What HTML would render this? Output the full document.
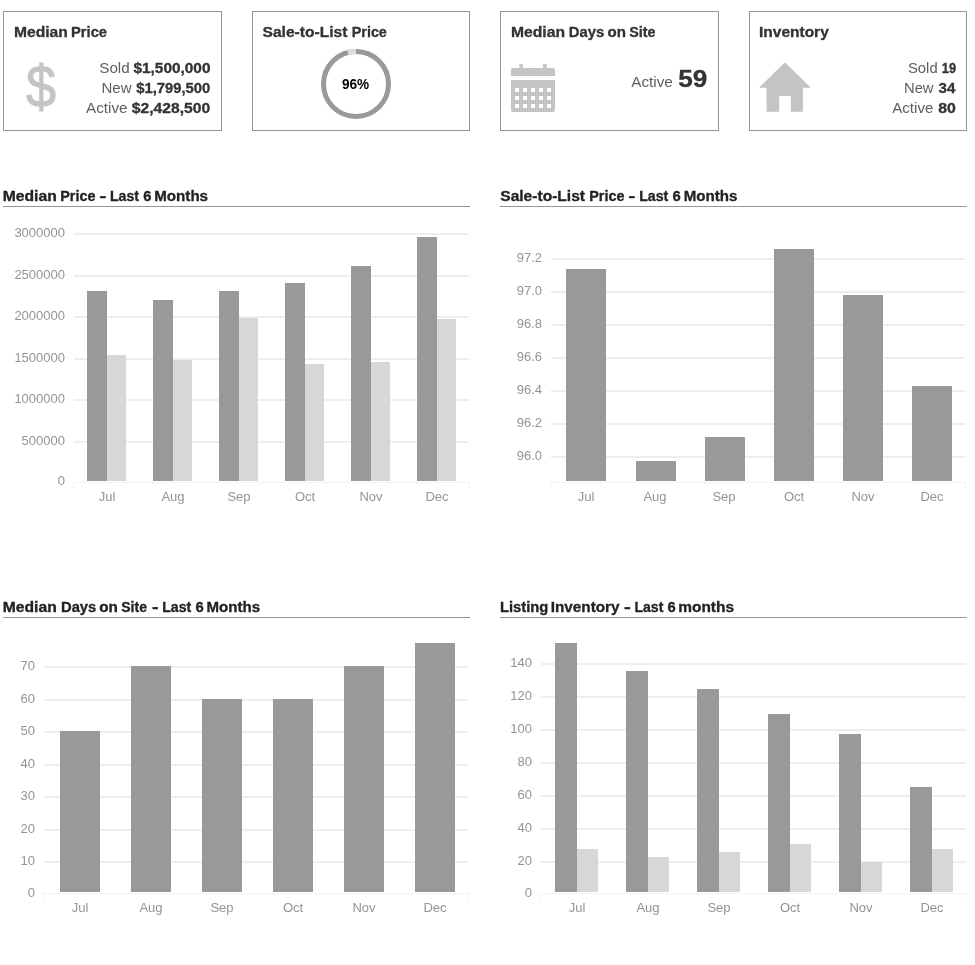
<!DOCTYPE html>
<html lang="en">
<head>
<meta charset="utf-8">
<title>Market Report</title>
<style>
html,body{margin:0;padding:0;background:#fff;}
body{position:relative;width:975px;height:965px;overflow:hidden;font-family:"Liberation Sans",sans-serif;}
.t{position:absolute;white-space:nowrap;line-height:1;transform-origin:0 0;will-change:transform;}
.card{position:absolute;top:11px;height:118px;width:217px;border:1px solid #969696;}
.rule{position:absolute;height:1px;background:#969696;}
.g{position:absolute;height:2px;background:#eeeeee;}
.z{position:absolute;height:1px;background:#f3f3f3;}
.v{position:absolute;width:1px;background:#f2f2f2;}
.b{position:absolute;background:#999999;}
.l{position:absolute;background:#d7d7d7;}
.yl{position:absolute;will-change:transform;font-size:13px;line-height:13px;color:#949494;text-align:right;white-space:nowrap;}
.xl{position:absolute;will-change:transform;font-size:13px;line-height:13px;color:#949494;text-align:center;white-space:nowrap;width:60px;}
svg{position:absolute;overflow:visible;}
</style>
</head>
<body>

<!-- summary cards -->
<section>
<div class="card" style="left:3px;width:217px"></div>
<div class="card" style="left:252px;width:216px"></div>
<div class="card" style="left:500px;width:217px"></div>
<div class="card" style="left:749px;width:216px"></div>
<span class="t" style="left:14px;top:26px;font-size:11.2px;font-weight:700;-webkit-text-stroke:0.24px #333333;color:#333333;transform:scale(1.3953,1.25);">Median</span>
<span class="t" style="left:71px;top:26px;font-size:11.2px;font-weight:700;-webkit-text-stroke:0.24px #333333;color:#333333;transform:scale(1.3151,1.25);">Price</span>
<span class="t" style="left:262px;top:26px;font-size:11.2px;font-weight:700;-webkit-text-stroke:0.24px #333333;color:#333333;transform:translateX(0.5px) scale(1.3933,1.25);">Sale-to-List</span>
<span class="t" style="left:351px;top:26px;font-size:11.2px;font-weight:700;-webkit-text-stroke:0.24px #333333;color:#333333;transform:translateX(0.75px) scale(1.2820,1.25);">Price</span>
<span class="t" style="left:511px;top:26px;font-size:11.2px;font-weight:700;-webkit-text-stroke:0.24px #333333;color:#333333;transform:scale(1.4001,1.25);">Median</span>
<span class="t" style="left:568px;top:26px;font-size:11.2px;font-weight:700;-webkit-text-stroke:0.24px #333333;color:#333333;transform:translateX(0.75px) scale(1.3261,1.25);">Days</span>
<span class="t" style="left:607px;top:26px;font-size:11.2px;font-weight:700;-webkit-text-stroke:0.24px #333333;color:#333333;transform:translateX(0.5px) scale(1.3461,1.25);">on</span>
<span class="t" style="left:629px;top:26px;font-size:11.2px;font-weight:700;-webkit-text-stroke:0.24px #333333;color:#333333;transform:translateX(0.25px) scale(1.2787,1.25);">Site</span>
<span class="t" style="left:759px;top:26px;font-size:11.2px;font-weight:700;-webkit-text-stroke:0.24px #333333;color:#333333;transform:scale(1.3855,1.25);">Inventory</span>
<span class="t" style="left:25.9px;top:58.3px;font-size:58.6px;-webkit-text-stroke:1px #c4c4c4;transform:scaleX(0.92);color:#c4c4c4;">$</span>
<span class="t" style="left:99px;top:62px;font-size:11.2px;color:#5e5e5e;transform:translateX(0.25px) scale(1.3595,1.25);">Sold</span>
<span class="t" style="left:133px;top:62px;font-size:11.2px;font-weight:700;-webkit-text-stroke:0.24px #333333;color:#333333;transform:translateX(0.5px) scale(1.3744,1.25);">$1,500,000</span>
<span class="t" style="left:101px;top:82px;font-size:11.2px;color:#5e5e5e;transform:translateX(0.5px) scale(1.3404,1.25);">New</span>
<span class="t" style="left:136px;top:82px;font-size:11.2px;font-weight:700;-webkit-text-stroke:0.24px #333333;color:#333333;transform:translateX(0.25px) scale(1.3200,1.25);">$1,799,500</span>
<span class="t" style="left:86px;top:102px;font-size:11.2px;color:#5e5e5e;transform:scale(1.3651,1.25);">Active</span>
<span class="t" style="left:131px;top:102px;font-size:11.2px;font-weight:700;-webkit-text-stroke:0.24px #333333;color:#333333;transform:translateX(0.75px) scale(1.3997,1.25);">$2,428,500</span>
<svg width="72" height="72" style="left:320px;top:47.8px" viewBox="-36 -36 72 72">
<circle r="32.5" fill="none" stroke="#999999" stroke-width="5"/>
<path d="M -8.08 -31.48 A 32.5 32.5 0 0 1 0 -32.5" fill="none" stroke="#dddddd" stroke-width="5"/>
</svg>
<span class="t" style="left:342px;top:78px;font-size:11.2px;font-weight:700;color:#000;transform:scale(1.2132,1.25);">96%</span>
<svg width="44" height="49" style="left:511px;top:64px" viewBox="0 0 44 49" fill="#c4c4c4">
<rect x="8.3" y="0" width="3.6" height="5"/><rect x="32" y="0" width="3.8" height="5"/>
<path d="M2 4h40a2 2 0 0 1 2 2v6H0V6a2 2 0 0 1 2-2z"/>
<path fill-rule="evenodd" d="M0 16h44v30a2 2 0 0 1-2 2H2a2 2 0 0 1-2-2zM4 24v4h4v-4zM12 24v4h4v-4zM20 24v4h4v-4zM28 24v4h4v-4zM36 24v4h4v-4zM4 32v4h4v-4zM12 32v4h4v-4zM20 32v4h4v-4zM28 32v4h4v-4zM36 32v4h4v-4zM4 40v4h4v-4zM12 40v4h4v-4zM20 40v4h4v-4zM28 40v4h4v-4zM36 40v4h4v-4z"/>
</svg>
<span class="t" style="left:631px;top:76px;font-size:11.2px;color:#5e5e5e;transform:translateX(0.25px) scale(1.3649,1.25);">Active</span>
<span class="t" style="left:678px;top:67px;font-size:19.2px;font-weight:700;-webkit-text-stroke:0.24px #333333;color:#333333;transform:translateX(0.25px) scale(1.3617,1.25);">59</span>
<svg width="52" height="50" style="left:759.45px;top:61.95px" viewBox="0 0 51.6 49.3" fill="#c4c4c4">
<path d="M25.7 0L51.6 25.3H43.6V49.3H31.6V33.5H20V49.3H7.5V25.3H0z"/>
</svg>
<span class="t" style="left:908px;top:62px;font-size:11.2px;color:#5e5e5e;transform:scale(1.3226,1.25);">Sold</span>
<span class="t" style="left:941px;top:62px;font-size:11.2px;font-weight:700;-webkit-text-stroke:0.24px #333333;color:#333333;transform:translateX(0.75px) scale(1.1478,1.25);">19</span>
<span class="t" style="left:904px;top:82px;font-size:11.2px;color:#5e5e5e;transform:scale(1.3196,1.25);">New</span>
<span class="t" style="left:938px;top:82px;font-size:11.2px;font-weight:700;-webkit-text-stroke:0.24px #333333;color:#333333;transform:translateX(0.5px) scale(1.3486,1.25);">34</span>
<span class="t" style="left:892px;top:102px;font-size:11.2px;color:#5e5e5e;transform:translateX(0.25px) scale(1.3499,1.25);">Active</span>
<span class="t" style="left:938px;top:102px;font-size:11.2px;font-weight:700;-webkit-text-stroke:0.24px #333333;color:#333333;transform:translateX(0.25px) scale(1.4129,1.25);">80</span>
</section>
<!-- section headings -->
<section>
<span class="t" style="left:2px;top:190px;font-size:11.2px;font-weight:700;-webkit-text-stroke:0.24px #222222;color:#222222;transform:translateX(0.75px) scale(1.4006,1.25);">Median</span>
<span class="t" style="left:60px;top:190px;font-size:11.2px;font-weight:700;-webkit-text-stroke:0.24px #222222;color:#222222;transform:translateX(0.25px) scale(1.2844,1.25);">Price</span>
<span class="t" style="left:99px;top:190px;font-size:11.2px;font-weight:700;-webkit-text-stroke:0.24px #222222;color:#222222;transform:translateX(0.5px) scale(1.8084,1.25);">-</span>
<span class="t" style="left:110px;top:190px;font-size:11.2px;font-weight:700;-webkit-text-stroke:0.24px #222222;color:#222222;transform:scale(1.2585,1.25);">Last</span>
<span class="t" style="left:143px;top:190px;font-size:11.2px;font-weight:700;-webkit-text-stroke:0.24px #222222;color:#222222;transform:translateX(0.25px) scale(1.3065,1.25);">6</span>
<span class="t" style="left:154px;top:190px;font-size:11.2px;font-weight:700;-webkit-text-stroke:0.24px #222222;color:#222222;transform:translateX(0.25px) scale(1.3524,1.25);">Months</span>
<span class="t" style="left:500px;top:190px;font-size:11.2px;font-weight:700;-webkit-text-stroke:0.24px #222222;color:#222222;transform:translateX(0.25px) scale(1.3916,1.25);">Sale-to-List</span>
<span class="t" style="left:589px;top:190px;font-size:11.2px;font-weight:700;-webkit-text-stroke:0.24px #222222;color:#222222;transform:translateX(0.25px) scale(1.2853,1.25);">Price</span>
<span class="t" style="left:628px;top:190px;font-size:11.2px;font-weight:700;-webkit-text-stroke:0.24px #222222;color:#222222;transform:translateX(0.5px) scale(1.8084,1.25);">-</span>
<span class="t" style="left:639px;top:190px;font-size:11.2px;font-weight:700;-webkit-text-stroke:0.24px #222222;color:#222222;transform:translateX(0.25px) scale(1.2614,1.25);">Last</span>
<span class="t" style="left:672px;top:190px;font-size:11.2px;font-weight:700;-webkit-text-stroke:0.24px #222222;color:#222222;transform:translateX(0.5px) scale(1.3192,1.25);">6</span>
<span class="t" style="left:683px;top:190px;font-size:11.2px;font-weight:700;-webkit-text-stroke:0.24px #222222;color:#222222;transform:translateX(0.75px) scale(1.3501,1.25);">Months</span>
<span class="t" style="left:2px;top:601px;font-size:11.2px;font-weight:700;-webkit-text-stroke:0.24px #222222;color:#222222;transform:translateX(0.75px) scale(1.4006,1.25);">Median</span>
<span class="t" style="left:61px;top:601px;font-size:11.2px;font-weight:700;-webkit-text-stroke:0.24px #222222;color:#222222;transform:scale(1.3195,1.25);">Days</span>
<span class="t" style="left:99px;top:601px;font-size:11.2px;font-weight:700;-webkit-text-stroke:0.24px #222222;color:#222222;transform:translateX(0.25px) scale(1.3653,1.25);">on</span>
<span class="t" style="left:121px;top:601px;font-size:11.2px;font-weight:700;-webkit-text-stroke:0.24px #222222;color:#222222;transform:translateX(0.25px) scale(1.2509,1.25);">Site</span>
<span class="t" style="left:152px;top:601px;font-size:11.2px;font-weight:700;-webkit-text-stroke:0.24px #222222;color:#222222;transform:scale(1.7620,1.25);">-</span>
<span class="t" style="left:162px;top:601px;font-size:11.2px;font-weight:700;-webkit-text-stroke:0.24px #222222;color:#222222;transform:translateX(0.25px) scale(1.2614,1.25);">Last</span>
<span class="t" style="left:195px;top:601px;font-size:11.2px;font-weight:700;-webkit-text-stroke:0.24px #222222;color:#222222;transform:translateX(0.5px) scale(1.3192,1.25);">6</span>
<span class="t" style="left:206px;top:601px;font-size:11.2px;font-weight:700;-webkit-text-stroke:0.24px #222222;color:#222222;transform:translateX(0.5px) scale(1.3458,1.25);">Months</span>
<span class="t" style="left:500px;top:601px;font-size:11.2px;font-weight:700;-webkit-text-stroke:0.24px #222222;color:#222222;transform:scale(1.3148,1.25);">Listing</span>
<span class="t" style="left:550px;top:601px;font-size:11.2px;font-weight:700;-webkit-text-stroke:0.24px #222222;color:#222222;transform:translateX(0.75px) scale(1.3659,1.25);">Inventory</span>
<span class="t" style="left:624px;top:601px;font-size:11.2px;font-weight:700;-webkit-text-stroke:0.24px #222222;color:#222222;transform:scale(1.8124,1.25);">-</span>
<span class="t" style="left:634px;top:601px;font-size:11.2px;font-weight:700;-webkit-text-stroke:0.24px #222222;color:#222222;transform:translateX(0.5px) scale(1.2521,1.25);">Last</span>
<span class="t" style="left:667px;top:601px;font-size:11.2px;font-weight:700;-webkit-text-stroke:0.24px #222222;color:#222222;transform:translateX(0.5px) scale(1.3136,1.25);">6</span>
<span class="t" style="left:678px;top:601px;font-size:11.2px;font-weight:700;-webkit-text-stroke:0.24px #222222;color:#222222;transform:translateX(0.25px) scale(1.3792,1.25);">months</span>
<div class="rule" style="left:3px;top:206px;width:467px"></div>
<div class="rule" style="left:500px;top:206px;width:467px"></div>
<div class="rule" style="left:3px;top:617px;width:467px"></div>
<div class="rule" style="left:500px;top:617px;width:467px"></div>
</section>
<!-- chart: median price -->
<section>
<div class="g" style="left:74px;top:233.0px;width:394.5px"></div>
<div class="g" style="left:74px;top:274.8px;width:394.5px"></div>
<div class="g" style="left:74px;top:316.0px;width:394.5px"></div>
<div class="g" style="left:74px;top:357.8px;width:394.5px"></div>
<div class="g" style="left:74px;top:398.8px;width:394.5px"></div>
<div class="g" style="left:74px;top:440.8px;width:394.5px"></div>
<div class="z" style="left:73px;top:482.0px;width:395.5px"></div>
<div class="v" style="left:73px;top:482.0px;height:6px"></div>
<div class="v" style="left:468.5px;top:482.0px;height:6px"></div>
<div class="yl" style="left:-5.5px;top:225.7px;width:70px">3000000</div>
<div class="yl" style="left:-5.5px;top:267.5px;width:70px">2500000</div>
<div class="yl" style="left:-5.5px;top:308.7px;width:70px">2000000</div>
<div class="yl" style="left:-5.5px;top:350.5px;width:70px">1500000</div>
<div class="yl" style="left:-5.5px;top:391.5px;width:70px">1000000</div>
<div class="yl" style="left:-5.5px;top:433.5px;width:70px">500000</div>
<div class="yl" style="left:-5.5px;top:474.1px;width:70px">0</div>
<div class="b" style="left:87px;top:291.1px;width:20px;height:190.1px"></div>
<div class="b" style="left:153px;top:300.1px;width:20px;height:181.1px"></div>
<div class="b" style="left:219px;top:291.2px;width:20px;height:190.0px"></div>
<div class="b" style="left:285px;top:283.0px;width:20px;height:198.2px"></div>
<div class="b" style="left:351px;top:266.2px;width:20px;height:215.0px"></div>
<div class="b" style="left:417px;top:237.1px;width:20px;height:244.1px"></div>
<div class="l" style="left:107px;top:354.8px;width:19px;height:126.4px"></div>
<div class="l" style="left:173px;top:360.0px;width:19px;height:121.2px"></div>
<div class="l" style="left:239px;top:318.0px;width:19px;height:163.2px"></div>
<div class="l" style="left:305px;top:364.2px;width:19px;height:117.0px"></div>
<div class="l" style="left:371px;top:362.3px;width:19px;height:118.9px"></div>
<div class="l" style="left:437px;top:319.0px;width:19px;height:162.2px"></div>
<div class="xl" style="left:77.0px;top:490.4px">Jul</div>
<div class="xl" style="left:143.0px;top:490.4px">Aug</div>
<div class="xl" style="left:209.0px;top:490.4px">Sep</div>
<div class="xl" style="left:275.0px;top:490.4px">Oct</div>
<div class="xl" style="left:341.0px;top:490.4px">Nov</div>
<div class="xl" style="left:407.0px;top:490.4px">Dec</div>
</section>
<!-- chart: sale to list -->
<section>
<div class="g" style="left:551px;top:258.0px;width:414.3px"></div>
<div class="g" style="left:551px;top:291.0px;width:414.3px"></div>
<div class="g" style="left:551px;top:324.0px;width:414.3px"></div>
<div class="g" style="left:551px;top:357.0px;width:414.3px"></div>
<div class="g" style="left:551px;top:390.0px;width:414.3px"></div>
<div class="g" style="left:551px;top:423.0px;width:414.3px"></div>
<div class="g" style="left:551px;top:456.0px;width:414.3px"></div>
<div class="z" style="left:550px;top:482.0px;width:415.3px"></div>
<div class="v" style="left:550px;top:482.0px;height:6px"></div>
<div class="v" style="left:965.3px;top:482.0px;height:6px"></div>
<div class="yl" style="left:471.5px;top:250.7px;width:70px">97.2</div>
<div class="yl" style="left:471.5px;top:283.7px;width:70px">97.0</div>
<div class="yl" style="left:471.5px;top:316.7px;width:70px">96.8</div>
<div class="yl" style="left:471.5px;top:349.7px;width:70px">96.6</div>
<div class="yl" style="left:471.5px;top:382.7px;width:70px">96.4</div>
<div class="yl" style="left:471.5px;top:415.7px;width:70px">96.2</div>
<div class="yl" style="left:471.5px;top:448.7px;width:70px">96.0</div>
<div class="b" style="left:566px;top:269.1px;width:40px;height:212.1px"></div>
<div class="b" style="left:636px;top:461.0px;width:40px;height:20.2px"></div>
<div class="b" style="left:705px;top:437.1px;width:40px;height:44.1px"></div>
<div class="b" style="left:774px;top:248.9px;width:40px;height:232.3px"></div>
<div class="b" style="left:843px;top:295.0px;width:40px;height:186.2px"></div>
<div class="b" style="left:912px;top:386.0px;width:40px;height:95.2px"></div>
<div class="xl" style="left:555.5px;top:490.4px">Jul</div>
<div class="xl" style="left:625.2px;top:490.4px">Aug</div>
<div class="xl" style="left:694.4px;top:490.4px">Sep</div>
<div class="xl" style="left:763.6px;top:490.4px">Oct</div>
<div class="xl" style="left:832.6px;top:490.4px">Nov</div>
<div class="xl" style="left:901.6px;top:490.4px">Dec</div>
</section>
<!-- chart: days on site -->
<section>
<div class="g" style="left:44px;top:665.9px;width:424px"></div>
<div class="g" style="left:44px;top:698.9px;width:424px"></div>
<div class="g" style="left:44px;top:730.8px;width:424px"></div>
<div class="g" style="left:44px;top:763.8px;width:424px"></div>
<div class="g" style="left:44px;top:795.8px;width:424px"></div>
<div class="g" style="left:44px;top:828.8px;width:424px"></div>
<div class="g" style="left:44px;top:860.8px;width:424px"></div>
<div class="z" style="left:43px;top:893.0px;width:425px"></div>
<div class="v" style="left:43px;top:893.0px;height:6px"></div>
<div class="v" style="left:468px;top:893.0px;height:6px"></div>
<div class="yl" style="left:-35.5px;top:658.6px;width:70px">70</div>
<div class="yl" style="left:-35.5px;top:691.6px;width:70px">60</div>
<div class="yl" style="left:-35.5px;top:723.5px;width:70px">50</div>
<div class="yl" style="left:-35.5px;top:756.5px;width:70px">40</div>
<div class="yl" style="left:-35.5px;top:788.5px;width:70px">30</div>
<div class="yl" style="left:-35.5px;top:821.5px;width:70px">20</div>
<div class="yl" style="left:-35.5px;top:853.5px;width:70px">10</div>
<div class="yl" style="left:-35.5px;top:885.5px;width:70px">0</div>
<div class="b" style="left:60px;top:731.0px;width:40px;height:161.2px"></div>
<div class="b" style="left:131px;top:666.0px;width:40px;height:226.2px"></div>
<div class="b" style="left:202px;top:699.0px;width:40px;height:193.2px"></div>
<div class="b" style="left:273px;top:699.0px;width:40px;height:193.2px"></div>
<div class="b" style="left:344px;top:666.0px;width:40px;height:226.2px"></div>
<div class="b" style="left:415px;top:643.0px;width:40px;height:249.2px"></div>
<div class="xl" style="left:49.6px;top:901.4px">Jul</div>
<div class="xl" style="left:120.5px;top:901.4px">Aug</div>
<div class="xl" style="left:191.5px;top:901.4px">Sep</div>
<div class="xl" style="left:262.5px;top:901.4px">Oct</div>
<div class="xl" style="left:333.5px;top:901.4px">Nov</div>
<div class="xl" style="left:404.5px;top:901.4px">Dec</div>
</section>
<!-- chart: inventory -->
<section>
<div class="g" style="left:541px;top:662.8px;width:424.5px"></div>
<div class="g" style="left:541px;top:695.9px;width:424.5px"></div>
<div class="g" style="left:541px;top:728.9px;width:424.5px"></div>
<div class="g" style="left:541px;top:761.9px;width:424.5px"></div>
<div class="g" style="left:541px;top:795.0px;width:424.5px"></div>
<div class="g" style="left:541px;top:828.0px;width:424.5px"></div>
<div class="g" style="left:541px;top:861.0px;width:424.5px"></div>
<div class="z" style="left:540px;top:893.0px;width:425.5px"></div>
<div class="v" style="left:540px;top:893.0px;height:6px"></div>
<div class="v" style="left:965.5px;top:893.0px;height:6px"></div>
<div class="yl" style="left:461.5px;top:655.5px;width:70px">140</div>
<div class="yl" style="left:461.5px;top:688.6px;width:70px">120</div>
<div class="yl" style="left:461.5px;top:721.6px;width:70px">100</div>
<div class="yl" style="left:461.5px;top:754.6px;width:70px">80</div>
<div class="yl" style="left:461.5px;top:787.7px;width:70px">60</div>
<div class="yl" style="left:461.5px;top:820.7px;width:70px">40</div>
<div class="yl" style="left:461.5px;top:853.7px;width:70px">20</div>
<div class="yl" style="left:461.5px;top:885.5px;width:70px">0</div>
<div class="b" style="left:555px;top:643.0px;width:22px;height:249.2px"></div>
<div class="b" style="left:626px;top:671.0px;width:22px;height:221.2px"></div>
<div class="b" style="left:697px;top:689.0px;width:22px;height:203.2px"></div>
<div class="b" style="left:768px;top:714.0px;width:22px;height:178.2px"></div>
<div class="b" style="left:839px;top:733.8px;width:22px;height:158.4px"></div>
<div class="b" style="left:910px;top:787.0px;width:22px;height:105.2px"></div>
<div class="l" style="left:577px;top:849.1px;width:21px;height:43.1px"></div>
<div class="l" style="left:648px;top:857.1px;width:21px;height:35.1px"></div>
<div class="l" style="left:719px;top:852.1px;width:21px;height:40.1px"></div>
<div class="l" style="left:790px;top:844.2px;width:21px;height:48.0px"></div>
<div class="l" style="left:861px;top:862.1px;width:21px;height:30.1px"></div>
<div class="l" style="left:932px;top:849.2px;width:21px;height:43.0px"></div>
<div class="xl" style="left:546.7px;top:901.4px">Jul</div>
<div class="xl" style="left:617.5px;top:901.4px">Aug</div>
<div class="xl" style="left:688.5px;top:901.4px">Sep</div>
<div class="xl" style="left:760.0px;top:901.4px">Oct</div>
<div class="xl" style="left:830.7px;top:901.4px">Nov</div>
<div class="xl" style="left:901.9px;top:901.4px">Dec</div>
</section>
</body>
</html>
